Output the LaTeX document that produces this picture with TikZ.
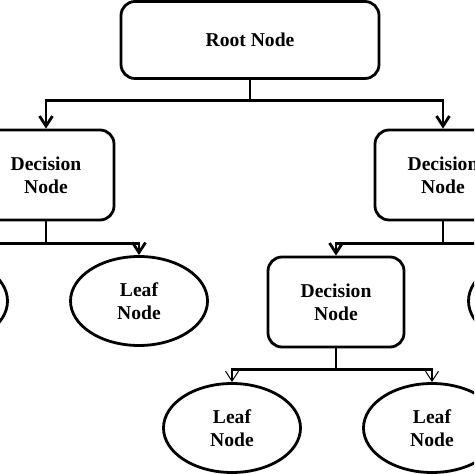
\documentclass[tikz,border=0pt]{standalone}
\usepackage{fontspec}
\setmainfont{Liberation Serif}
\usetikzlibrary{arrows.meta,shapes.geometric}
\tikzset{
	labelfont/.style={font=\bfseries\fontsize{9.8}{11.5}\selectfont},
	decbox/.style={draw,line width=1.4pt,rounded corners=7pt,minimum width=68pt,minimum height=45pt,align=center,labelfont},
	leafnode/.style={draw,ellipse,line width=1.4pt,minimum width=68.5pt,minimum height=44.5pt,inner sep=0pt,align=center,labelfont},
	conn/.style={line width=1.4pt,-{Straight Barb[length=5pt,width=6.5pt]}},
	thinconn/.style={line width=1.4pt,-{Straight Barb[length=5pt,width=6.5pt,line width=0.5pt]}}
}
\begin{document}
\begin{tikzpicture}[x=0.5pt,y=-0.5pt]
	\useasboundingbox (0,0) rectangle (474,474);
	\clip (0,0) rectangle (474,474);
	% boxes
	\node [decbox,minimum width=129pt,minimum height=38.5pt] (root) at (250,40) {Root Node};
	\node [decbox] (decleft) at (46,175) {Decision\\Node};
	\node [decbox] (decright) at (443,175) {Decision\\Node};
	\node [decbox] (decmid) at (336,302) {Decision\\Node};
	% leaves
	\node [leafnode] (leafa) at (-61,301) {};
	\node [leafnode] (leafb) at (139,301) {Leaf\\Node};
	\node [leafnode] (leafc) at (537,301) {};
	\node [leafnode] (leafd) at (232,428) {Leaf\\Node};
	\node [leafnode] (leafe) at (432,428) {Leaf\\Node};

	% connectors
	\draw [conn] (root.south) -- ++(0,21) -| (decleft.north);
	\draw [conn] (root.south) -- ++(0,21) -| (decright.north);
	\draw [conn] (decleft.south) -- ++(0,22) -| (leafa.north);
	\draw [conn] (decleft.south) -- ++(0,22) -| (leafb.north);
	\draw [conn] (decright.south) -- ++(0,22) -| (decmid.north);
	\draw [conn] (decright.south) -- ++(0,22) -| (leafc.north);
	\draw [thinconn] (decmid.south) -- ++(0,21) -| (leafd.north);
	\draw [thinconn] (decmid.south) -- ++(0,21) -| (leafe.north);
\end{tikzpicture}
\end{document}
